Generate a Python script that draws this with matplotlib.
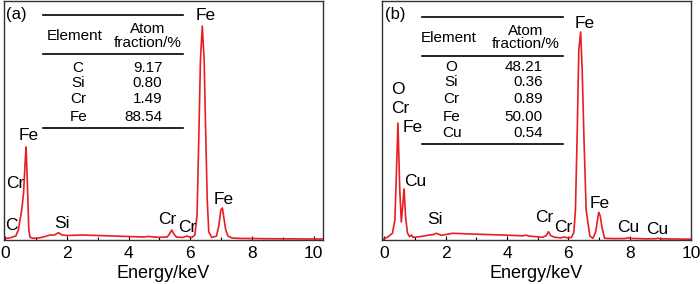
import numpy as np
import matplotlib.pyplot as plt

plt.rcParams['font.family'] = ['Liberation Sans', 'DejaVu Sans']

# spectrum (a): energy keV / counts (arb.)
ea = [0.0, 0.1, 0.2, 0.27, 0.35, 0.43, 0.54, 0.60, 0.65, 0.68, 0.72, 0.77, 0.81, 0.9, 1.1, 1.3,
      1.46, 1.6, 1.73, 1.85, 2.0, 2.5, 3.0, 3.5, 4.0, 4.5, 4.65, 4.8, 5.0, 5.25, 5.33, 5.4, 5.47, 5.55,
      5.75, 5.85, 5.9, 5.95, 6.05, 6.15, 6.22, 6.28, 6.33, 6.39, 6.45, 6.50, 6.55, 6.6, 6.7,
      6.85, 6.93, 6.99, 7.04, 7.09, 7.15, 7.22, 7.35, 7.6, 8.0, 8.5, 9.0, 9.5, 10.0, 10.3]
ia = [1.7, 1.8, 2.5, 3.3, 4, 10, 30, 47, 77, 93, 60, 10, 2.7, 1.7, 2.0, 3.5,
      5, 5, 7.3, 5, 4.5, 5, 4.5, 4, 3.5, 3, 3.6, 3, 2.7, 3, 6, 10, 6, 3,
      2.5, 3.5, 4, 3.2, 2.5, 5, 25, 107, 180, 214, 180, 107, 40, 8, 2.5,
      4, 15, 30, 32, 22, 10, 4, 2, 1.6, 1.5, 1.3, 1.2, 1.1, 1, 1]

# spectrum (b)
eb = [-0.04, 0.12, 0.26, 0.34, 0.39, 0.44, 0.5, 0.55, 0.61, 0.64, 0.69, 0.75, 0.82, 0.88, 0.93,
      1.15, 1.48, 1.6, 1.69, 1.86, 2.23, 3.0, 3.85, 4.5, 4.62, 4.7, 5.16, 5.28, 5.35, 5.42, 5.55,
      5.75, 5.87, 5.97, 6.1, 6.18, 6.23, 6.29, 6.34, 6.40, 6.45, 6.51, 6.58, 6.7, 6.8,
      6.89, 6.95, 6.99, 7.04, 7.1, 7.18, 7.5, 7.85, 7.95, 8.05, 8.5, 8.85, 8.92, 9.0, 9.5, 10.0]
ib = [0.7, 3.3, 6.7, 20, 67, 117, 50, 18, 40, 51, 23, 7, 3.3, 5, 2.7,
      3.3, 5, 5.5, 6.7, 4.7, 6.7, 5.8, 5, 4.2, 4.8, 4, 2.7, 4.5, 8.3, 4.5, 2.7,
      2.2, 3, 2.2, 2.5, 8, 30, 110, 190, 208, 170, 100, 30, 4, 1.7,
      8, 20, 27.7, 24, 12, 1.7, 1.4, 1.5, 2.2, 1.6, 1.2, 1.3, 1.8, 1.2, 1.0, 0.8]

# tables
elem_a = ['C', 'Si', 'Cr', 'Fe']
frac_a = ['9.17', '0.80', '1.49', '88.54']
elem_b = ['O', 'Si', 'Cr', 'Fe', 'Cu']
frac_b = ['48.21', '0.36', '0.89', '50.00', '0.54']

# peak labels: (text, x, y)
labels_a = [('Fe', 6.49, 224), ('Fe', 0.76, 105), ('Cr', 0.32, 57), ('C', 0.22, 14),
            ('Si', 1.84, 17), ('Cr', 5.25, 20), ('Cr', 5.9, 13), ('Fe', 7.07, 41)]
labels_b = [('Fe', 6.52, 216), ('O', 0.44, 151), ('Cr', 0.5, 132), ('Fe', 0.93, 112),
            ('Cu', 0.99, 58), ('Si', 1.64, 20), ('Cr', 5.22, 22), ('Cr', 5.82, 13),
            ('Fe', 7.01, 37), ('Cu', 7.94, 13), ('Cu', 8.91, 11)]

red = '#ea1c24'
fig = plt.figure(figsize=(7, 2.84), dpi=100)
axa = fig.add_axes([3.5/700, 44/284, 319.5/700, 239/284])
axb = fig.add_axes([382/700, 44/284, 309/700, 239/284])


def panel(ax, e, inten, xlim, tag, labels, elems, fracs, tab):
    ax.plot(e, inten, color=red, lw=1.2)
    ax.set_xlim(*xlim)
    ax.set_ylim(0, 239)
    ax.set_yticks([])
    ax.set_xticks([0, 2, 4, 6, 8, 10])
    ax.set_xticks([1, 3, 5, 7, 9], minor=True)
    ax.tick_params(axis='x', direction='in', length=3, width=0.8, labelsize=12.5, pad=4.5)
    ax.tick_params(axis='x', which='minor', direction='in', length=2.5, width=0.8)
    for s in ax.spines.values():
        s.set_linewidth(1.0)
        s.set_color('#333333')
    ax.set_xlabel('Energy/keV', fontsize=13, labelpad=3)
    ax.text(tag[1], tag[2], tag[0], fontsize=12, ha='center', va='center')
    for t, x, y in labels:
        ax.text(x, y, t, fontsize=12.5, ha='center', va='center')
    x0, x1, ytop, ymid, ybot, xel, xval, xhead, yhead, rows = tab
    for yy in (ytop, ymid, ybot):
        ax.plot([x0, x1], [yy, yy], color='black', lw=1.2)
    ax.text(xel - 0.1, yhead, 'Element', fontsize=11, ha='center', va='center')
    ax.text(xhead, yhead, 'Atom\nfraction/%', fontsize=11, ha='center', va='center',
            linespacing=0.95)
    for el, fr, yy in zip(elems, fracs, rows):
        ax.text(xel, yy, el, fontsize=11, ha='center', va='center')
        ax.text(xval, yy, fr, fontsize=11, ha='right', va='center')


panel(axa, ea, ia, (-0.05, 10.3), ('(a)', 0.36, 225), labels_a, elem_a, frac_a,
      (1.23, 5.78, 225, 186, 112, 2.37, 5.10, 4.61, 204, [172, 157, 141, 123]))
panel(axb, eb, ib, (-0.08, 10.0), ('(b)', 0.34, 225), labels_b, elem_b, frac_b,
      (1.21, 5.81, 223, 184, 96, 2.19, 5.16, 4.60, 202.5, [173, 158, 141, 123, 107]))

fig.savefig('out.png', dpi=100)
